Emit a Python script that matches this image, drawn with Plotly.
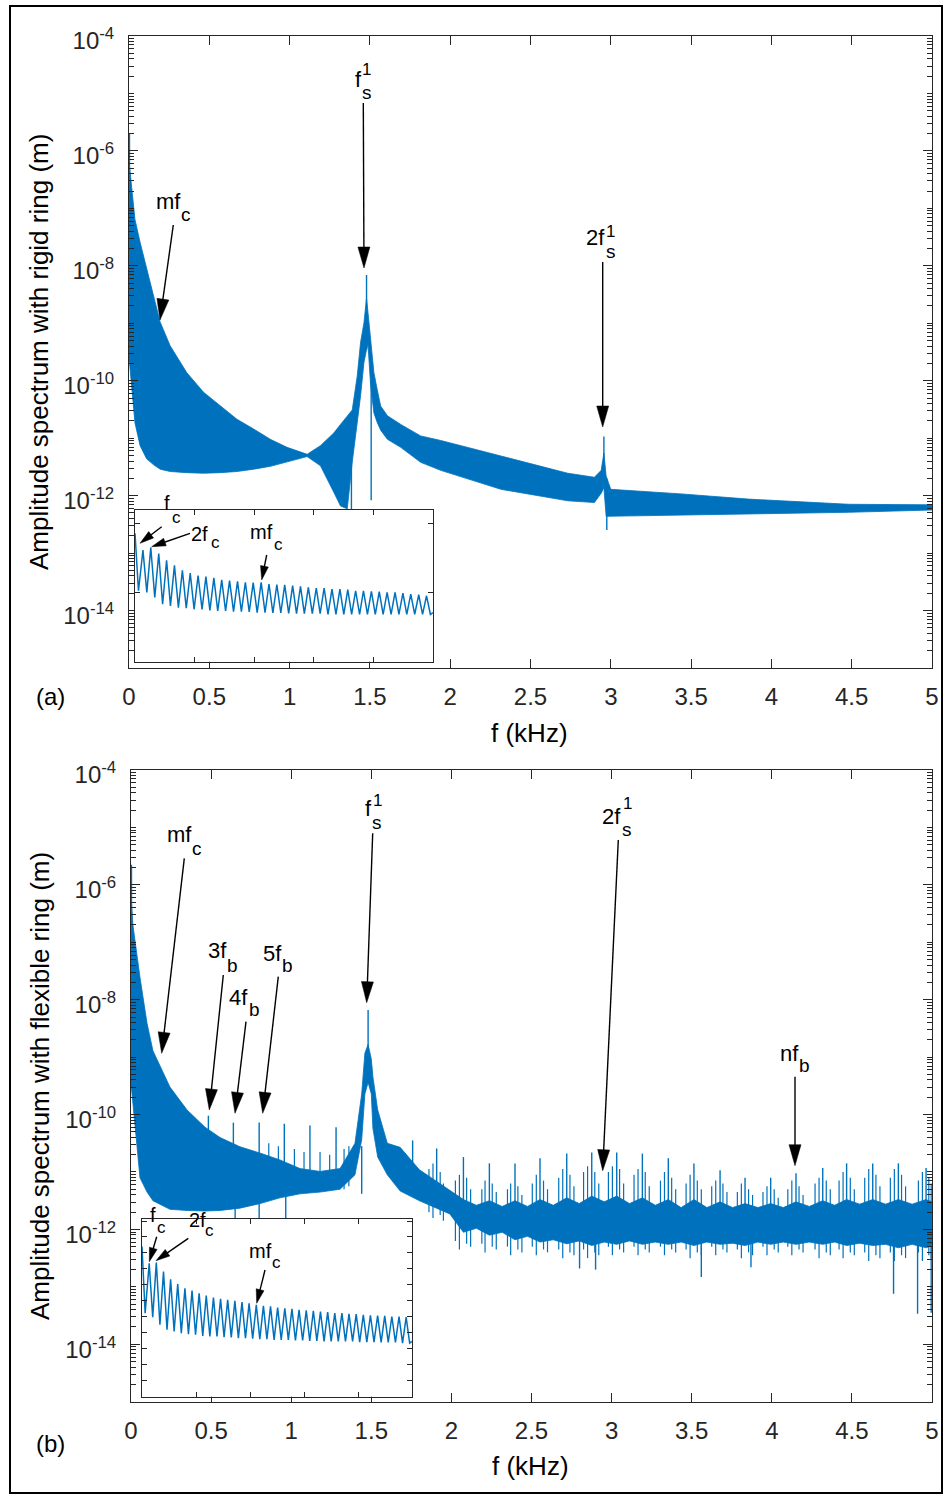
import plotly.graph_objects as go

W, H = 944, 1495
BLUE = "#0072BD"
AX = "#262626"
FONT = "Liberation Sans, Arial, Helvetica, sans-serif"

# ---------------- Panel (a): rigid ring (log10 of amplitude, m) ----------------
freq_a = [0.003, 0.017, 0.037, 0.069, 0.11, 0.152, 0.194, 0.256, 0.36, 0.464,
          0.568, 0.672, 0.776, 0.88, 0.984, 1.109, 1.192, 1.275, 1.317, 1.359,
          1.39, 1.421, 1.442, 1.463, 1.479, 1.488, 1.504, 1.525, 1.546, 1.567,
          1.609, 1.692, 1.816, 1.941, 2.316, 2.732, 2.898, 2.94, 2.957, 2.971,
          3.0, 3.44, 3.856, 4.48, 5.0]
upper_a_log10 = [-6.26, -6.70, -7.19, -7.59, -8.06, -8.52, -8.98, -9.39, -9.86, -10.20,
                 -10.44, -10.67, -10.84, -11.02, -11.16, -11.28, -11.13, -10.91, -10.76, -10.61,
                 -10.51, -9.92, -9.33, -8.99, -8.56, -8.81, -9.22, -9.86, -10.16, -10.44,
                 -10.61, -10.76, -10.96, -11.04, -11.31, -11.61, -11.68, -11.56, -11.26, -11.66,
                 -11.89, -11.97, -12.06, -12.15, -12.16]
lower_a_log10 = [-9.68, -10.03, -10.73, -11.13, -11.36, -11.46, -11.54, -11.58, -11.60, -11.61,
                 -11.60, -11.58, -11.54, -11.49, -11.42, -11.32, -11.48, -11.94, -12.18, -12.23,
                 -11.42, -10.73, -10.26, -9.68, -9.46, -9.36, -10.06, -10.56, -10.73, -10.86,
                 -11.02, -11.16, -11.42, -11.56, -11.89, -12.09, -12.12, -11.96, -11.86, -12.36,
                 -12.35, -12.34, -12.32, -12.29, -12.25]
spike_a_f = [0.003, 1.479, 1.385, 1.508, 2.957, 2.975]
spike_a_lo_log10 = [-9.68, -9.46, -12.25, -12.08, -11.86, -12.60]
spike_a_hi_log10 = [-5.69, -8.16, -11.00, -10.00, -10.97, -11.70]

# ---------------- Insets: low-frequency zoom (Hz, amplitude in pm) ----------------
inset_peak_f = [8.0, 15.9, 23.9, 31.8, 39.7, 47.7, 55.6, 63.5, 71.4, 79.4,
                87.3, 95.2, 103.2, 111.1, 119.0, 127.0, 134.9, 142.8, 150.7, 158.7,
                166.6, 174.5, 182.5, 190.4, 198.3, 206.3, 214.2, 222.1, 230.0, 238.0,
                245.9, 253.8, 261.8, 269.7, 277.6, 285.6, 293.5]
inset_trough_f = [3.5, 11.9, 19.9, 27.8, 35.7, 43.7, 51.6, 59.5, 67.5, 75.4,
                  83.3, 91.2, 99.2, 107.1, 115.0, 123.0, 130.9, 138.8, 146.8, 154.7,
                  162.6, 170.5, 178.5, 186.4, 194.3, 202.3, 210.2, 218.1, 226.1, 234.0,
                  241.9, 249.8, 257.8, 265.7, 273.6, 281.6, 289.5, 297.4]
inset_edges_f = [0.0, 300.0]

inset_a_peaks_pm = [1.618, 1.657, 1.569, 1.471, 1.397, 1.324, 1.284, 1.250, 1.235, 1.216,
                    1.186, 1.176, 1.167, 1.152, 1.147, 1.152, 1.127, 1.118, 1.113, 1.103,
                    1.093, 1.078, 1.069, 1.069, 1.054, 1.054, 1.044, 1.029, 1.029, 1.020,
                    1.015, 1.005, 1.005, 0.995, 0.980, 0.971, 0.956]
inset_a_troughs_pm = [1.029, 1.005, 0.931, 0.833, 0.809, 0.784, 0.775, 0.760, 0.760, 0.745,
                      0.735, 0.735, 0.725, 0.725, 0.721, 0.711, 0.711, 0.706, 0.706, 0.701,
                      0.696, 0.696, 0.696, 0.696, 0.686, 0.686, 0.686, 0.686, 0.686, 0.686,
                      0.686, 0.686, 0.686, 0.686, 0.686, 0.686, 0.686, 0.686]
inset_a_edges_pm = [1.863, 0.711]

inset_b_peaks_pm = [0.835, 0.840, 0.783, 0.735, 0.706, 0.679, 0.665, 0.648, 0.633, 0.621,
                    0.613, 0.606, 0.600, 0.592, 0.585, 0.575, 0.569, 0.565, 0.558, 0.554,
                    0.550, 0.544, 0.540, 0.538, 0.533, 0.529, 0.523, 0.523, 0.519, 0.517,
                    0.513, 0.510, 0.508, 0.506, 0.502, 0.502, 0.498]
inset_b_troughs_pm = [0.523, 0.498, 0.450, 0.419, 0.408, 0.398, 0.392, 0.388, 0.381, 0.377,
                      0.377, 0.373, 0.371, 0.367, 0.367, 0.363, 0.360, 0.360, 0.356, 0.356,
                      0.356, 0.352, 0.352, 0.350, 0.350, 0.346, 0.346, 0.346, 0.346, 0.346,
                      0.342, 0.342, 0.342, 0.340, 0.340, 0.340, 0.335, 0.335]
inset_b_edges_pm = [0.940, 0.346]

# ---------------- Panel (b): flexible ring (log10 of amplitude, m) ----------------
freq_b = [0.003, 0.012, 0.056, 0.1, 0.137, 0.243, 0.35, 0.462, 0.556, 0.68,
          0.805, 0.93, 1.055, 1.18, 1.305, 1.398, 1.44, 1.46, 1.48, 1.5,
          1.51, 1.54, 1.6, 1.68, 1.8, 1.99,
          2.075, 2.156, 2.237, 2.317, 2.397, 2.475, 2.553, 2.636, 2.72, 2.798,
          2.876, 2.954, 3.032, 3.112, 3.192, 3.273, 3.354, 3.434, 3.514, 3.595,
          3.677, 3.755, 3.833, 3.913, 3.993, 4.072, 4.151, 4.234, 4.318, 4.392,
          4.467, 4.548, 4.63, 4.71, 4.79, 4.876, 4.963, 5.0]
upper_b_log10 = [-6.31, -6.70, -7.61, -8.41, -8.89, -9.52, -9.92, -10.22, -10.40, -10.56,
                 -10.67, -10.79, -10.94, -10.99, -10.94, -10.50, -9.64, -8.93, -8.78, -9.03,
                 -9.34, -9.92, -10.50, -10.57, -10.96, -11.32,
                 -11.48, -11.58, -11.50, -11.60, -11.50, -11.60, -11.48, -11.58, -11.45, -11.55,
                 -11.42, -11.52, -11.42, -11.55, -11.45, -11.58, -11.48, -11.62, -11.48, -11.62,
                 -11.52, -11.62, -11.55, -11.62, -11.55, -11.62, -11.52, -11.60, -11.50, -11.58,
                 -11.48, -11.56, -11.48, -11.56, -11.48, -11.56, -11.48, -11.52]
lower_b_log10 = [-9.54, -9.84, -11.10, -11.35, -11.50, -11.65, -11.67, -11.68, -11.67, -11.63,
                 -11.55, -11.45, -11.38, -11.35, -11.30, -11.05, -10.44, -9.64, -9.44, -9.64,
                 -10.24, -10.74, -11.05, -11.33, -11.50, -11.73,
                 -12.05, -11.98, -12.10, -12.05, -12.18, -12.12, -12.22, -12.18, -12.25, -12.20,
                 -12.28, -12.22, -12.26, -12.20, -12.26, -12.22, -12.26, -12.22, -12.28, -12.22,
                 -12.26, -12.24, -12.28, -12.22, -12.26, -12.22, -12.26, -12.22, -12.26, -12.22,
                 -12.28, -12.24, -12.28, -12.26, -12.32, -12.26, -12.32, -12.28]
# rotating-ball harmonics n*f_b
harm_b_f = [0.483, 0.639, 0.80, 0.957, 1.117, 1.28, 1.758, 1.908, 2.075, 2.237,
            2.397, 2.553, 2.72, 2.876, 3.032, 3.192, 3.354, 3.514, 3.677, 3.833,
            3.993, 4.151, 4.318, 4.467, 4.63, 4.79, 4.963]
harm_b_hi_log10 = [-10.02, -10.14, -10.14, -10.16, -10.19, -10.22, -10.45, -10.59, -10.74, -10.85,
                   -10.85, -10.76, -10.68, -10.66, -10.66, -10.68, -10.76, -10.85, -10.97, -11.10,
                   -11.10, -11.02, -10.93, -10.85, -10.85, -10.85, -10.93]
harm_b_lo_log10 = [-11.2, -11.2, -11.2, -11.2, -11.2, -11.2, -11.3, -11.5, -11.9, -12.0,
                   -12.0, -12.0, -12.0, -12.0, -12.0, -12.0, -12.0, -12.0, -12.0, -12.0,
                   -12.0, -12.0, -12.0, -12.0, -12.0, -12.0, -12.0]
# other isolated lines (DC line, f_s peak, deep notches)
other_b_f = [0.003, 1.48, 0.65, 0.80, 0.966, 1.44, 2.80, 2.90, 3.56, 3.87, 4.76, 4.91, 4.995]
other_b_hi_log10 = [-5.65, -8.18, -11.35, -11.35, -11.25, -10.55, -12.05, -12.05, -12.15, -12.15, -12.25, -12.25, -12.05]
other_b_lo_log10 = [-9.54, -9.44, -11.85, -11.85, -11.93, -11.38, -12.68, -12.70, -12.83, -12.66, -13.12, -13.47, -13.45]
# side-band clusters around the harmonics
cluster_b_f = [0.86, 0.92, 1.02, 1.08, 1.18, 1.24, 1.33, 1.36,
               1.86, 1.885, 1.93, 1.95, 2.025, 2.05, 2.095, 2.12,
               2.19, 2.21, 2.255, 2.28, 2.35, 2.37, 2.415, 2.44,
               2.505, 2.53, 2.575, 2.60, 2.67, 2.695, 2.74, 2.765,
               2.825, 2.85, 2.895, 2.92, 2.98, 3.005, 3.05, 3.075,
               3.14, 3.165, 3.21, 3.235, 3.305, 3.33, 3.375, 3.40,
               3.465, 3.49, 3.535, 3.56, 3.625, 3.65, 3.695, 3.72,
               3.785, 3.81, 3.855, 3.88, 3.945, 3.97, 4.015, 4.04,
               4.10, 4.125, 4.17, 4.195, 4.27, 4.295, 4.34, 4.365,
               4.42, 4.445, 4.49, 4.515, 4.58, 4.605, 4.65, 4.675,
               4.74, 4.765, 4.81, 4.835, 4.915, 4.94, 4.98, 4.995]
cluster_b_hi_log10 = [-10.50, -10.55, -10.60, -10.65, -10.65, -10.70, -10.60, -10.55,
                      -10.95, -10.85, -11.00, -11.20, -11.15, -11.05, -11.10, -11.30,
                      -11.30, -11.15, -11.20, -11.35, -11.30, -11.20, -11.25, -11.40,
                      -11.20, -11.05, -11.15, -11.30, -11.10, -10.95, -11.05, -11.25,
                      -11.00, -10.90, -11.00, -11.20, -11.00, -10.90, -10.95, -11.20,
                      -11.05, -10.95, -11.00, -11.25, -11.15, -11.00, -11.10, -11.30,
                      -11.20, -11.05, -11.15, -11.30, -11.25, -11.15, -11.20, -11.35,
                      -11.35, -11.20, -11.30, -11.40, -11.35, -11.25, -11.30, -11.45,
                      -11.30, -11.15, -11.25, -11.40, -11.20, -11.10, -11.15, -11.30,
                      -11.15, -11.00, -11.10, -11.30, -11.10, -10.95, -11.05, -11.25,
                      -11.10, -10.95, -11.05, -11.25, -11.15, -11.00, -11.10, -11.20]
cluster_b_lo_log10 = [-11.40, -11.40, -11.35, -11.35, -11.30, -11.30, -11.30, -11.25,
                      -11.70, -11.80, -11.75, -11.85, -12.20, -12.35, -12.25, -12.30,
                      -12.25, -12.40, -12.30, -12.35, -12.30, -12.45, -12.35, -12.40,
                      -12.30, -12.45, -12.35, -12.40, -12.35, -12.50, -12.40, -12.45,
                      -12.35, -12.50, -12.40, -12.45, -12.30, -12.45, -12.35, -12.40,
                      -12.30, -12.45, -12.35, -12.40, -12.30, -12.45, -12.35, -12.40,
                      -12.35, -12.50, -12.40, -12.45, -12.30, -12.45, -12.35, -12.40,
                      -12.35, -12.50, -12.40, -12.45, -12.30, -12.45, -12.35, -12.40,
                      -12.30, -12.45, -12.35, -12.40, -12.35, -12.50, -12.40, -12.45,
                      -12.35, -12.50, -12.40, -12.45, -12.40, -12.55, -12.45, -12.50,
                      -12.40, -12.55, -12.45, -12.50, -12.40, -12.55, -12.45, -12.50]


def amp(logs):
    return [10.0 ** v for v in logs]


def band(f, up, lo):
    return list(f) + list(f)[::-1], amp(up) + amp(lo)[::-1]


def segments(f, lo, hi):
    xs, ys = [], []
    for a, b, c in zip(f, amp(lo), amp(hi)):
        xs += [a, a, None]
        ys += [b, c, None]
    return xs, ys


def zigzag(peaks_f, troughs_f, edges_f, peaks, troughs, edges):
    xs = [edges_f[0], troughs_f[0]]
    ys = [edges[0], troughs[0]]
    for i in range(len(peaks_f)):
        xs += [peaks_f[i], troughs_f[i + 1]]
        ys += [peaks[i], troughs[i + 1]]
    xs.append(edges_f[1])
    ys.append(edges[1])
    return xs, [v * 1e-12 for v in ys]


fig = go.Figure()

def add_band(f, up, lo, xa, ya):
    bx, by = band(f, up, lo)
    fig.add_trace(go.Scatter(x=bx, y=by, mode="lines", fill="toself", fillcolor=BLUE,
                             line=dict(color=BLUE, width=0.8), xaxis=xa, yaxis=ya,
                             hoverinfo="skip", showlegend=False))

def add_segments(f, lo, hi, xa, ya, w=1.4):
    sx, sy = segments(f, lo, hi)
    fig.add_trace(go.Scatter(x=sx, y=sy, mode="lines", line=dict(color=BLUE, width=w),
                             xaxis=xa, yaxis=ya, hoverinfo="skip", showlegend=False))

# panel (a)
add_band(freq_a, upper_a_log10, lower_a_log10, "x", "y")
add_segments(spike_a_f, spike_a_lo_log10, spike_a_hi_log10, "x", "y")
# inset (a)
ix, iy = zigzag(inset_peak_f, inset_trough_f, inset_edges_f,
                inset_a_peaks_pm, inset_a_troughs_pm, inset_a_edges_pm)
fig.add_trace(go.Scatter(x=ix, y=iy, mode="lines", line=dict(color=BLUE, width=1.5),
                         xaxis="x2", yaxis="y2", hoverinfo="skip", showlegend=False))
# panel (b)
add_band(freq_b, upper_b_log10, lower_b_log10, "x3", "y3")
add_segments(cluster_b_f, cluster_b_lo_log10, cluster_b_hi_log10, "x3", "y3", 1.2)
add_segments(harm_b_f, harm_b_lo_log10, harm_b_hi_log10, "x3", "y3")
add_segments(other_b_f, other_b_lo_log10, other_b_hi_log10, "x3", "y3")
# inset (b)
ix, iy = zigzag(inset_peak_f, inset_trough_f, inset_edges_f,
                inset_b_peaks_pm, inset_b_troughs_pm, inset_b_edges_pm)
fig.add_trace(go.Scatter(x=ix, y=iy, mode="lines", line=dict(color=BLUE, width=1.5),
                         xaxis="x4", yaxis="y4", hoverinfo="skip", showlegend=False))


def dx(a, b):
    return [a / W, b / W]

def dy(top, bottom):
    return [1 - bottom / H, 1 - top / H]

decades = list(range(-4, -16, -1))
major_vals = [10.0 ** e for e in decades if e % 2 == 0]
major_text = ["10<sup>%d</sup>" % e for e in decades if e % 2 == 0]
minor_vals = [k * 10.0 ** e for e in range(-15, -4) for k in range(2, 10)] + \
             [10.0 ** e for e in decades if e % 2 != 0]

tickfont = dict(family=FONT, size=24, color=AX)

def main_x(dom, anchor):
    return dict(domain=dom, anchor=anchor, range=[0, 5], tick0=0, dtick=0.5,
                ticks="inside", ticklen=9, tickwidth=1, tickcolor=AX,
                showline=True, linecolor=AX, linewidth=1, mirror="ticks",
                showgrid=False, zeroline=False, tickfont=tickfont,
                ticklabelstandoff=7, automargin=False)

def main_y(dom, anchor):
    return dict(domain=dom, anchor=anchor, type="log", range=[-15, -4],
                tickmode="array", tickvals=major_vals, ticktext=major_text,
                ticks="inside", ticklen=9, tickwidth=1, tickcolor=AX,
                minor=dict(tickmode="array", tickvals=minor_vals, ticks="inside",
                           ticklen=5, tickwidth=1, tickcolor=AX),
                showline=True, linecolor=AX, linewidth=1, mirror="ticks",
                showgrid=False, zeroline=False, tickfont=tickfont,
                ticklabelstandoff=9, ticklabelshift=5, automargin=False)

def inset_x(dom, anchor):
    return dict(domain=dom, anchor=anchor, range=[0, 300], tick0=0, dtick=60,
                ticks="inside", ticklen=5, tickwidth=1, tickcolor=AX,
                showline=True, linecolor=AX, linewidth=1, mirror="ticks",
                showticklabels=False, showgrid=False, zeroline=False, automargin=False)

def inset_y(dom, anchor, rng, step):
    return dict(domain=dom, anchor=anchor, range=rng, tick0=0, dtick=step,
                ticks="inside", ticklen=5, tickwidth=1, tickcolor=AX,
                showline=True, linecolor=AX, linewidth=1, mirror="ticks",
                showticklabels=False, showgrid=False, zeroline=False, automargin=False)

shapes = []
annotations = []

def P(x, y):
    return x / W, 1 - y / H

def arrow(x0, y0, x1, y1, hl, hw, lw=1.4):
    L = ((x1 - x0) ** 2 + (y1 - y0) ** 2) ** 0.5
    ux, uy = (x1 - x0) / L, (y1 - y0) / L
    bx, by = x1 - ux * hl, y1 - uy * hl
    nx, ny = -uy, ux
    a0 = P(x0, y0)
    ab = P(bx + ux * 2, by + uy * 2)
    shapes.append(dict(type="line", xref="paper", yref="paper", x0=a0[0], y0=a0[1],
                       x1=ab[0], y1=ab[1], line=dict(color="black", width=lw)))
    p1 = P(x1, y1)
    p2 = P(bx + nx * hw / 2, by + ny * hw / 2)
    p3 = P(bx - nx * hw / 2, by - ny * hw / 2)
    path = "M %.5f %.5f L %.5f %.5f L %.5f %.5f Z" % (p1[0], p1[1], p2[0], p2[1], p3[0], p3[1])
    shapes.append(dict(type="path", xref="paper", yref="paper", path=path,
                       fillcolor="black", line=dict(color="black", width=0.5)))

def text(x, y, s, size, angle=0):
    px, py = P(x, y)
    annotations.append(dict(x=px, y=py, xref="paper", yref="paper", text=s, showarrow=False,
                            textangle=angle, xanchor="center", yanchor="middle",
                            font=dict(family=FONT, size=size, color="black")))

BIG = (21, 12)
SMALL = (14, 8)

# ---- panel (a) labels ----
text(168, 201, "mf", 22); text(186, 214, "c", 19)
arrow(173.3, 225, 160, 320, *BIG)
text(358, 79, "f", 22); text(366, 70, "1", 17); text(367, 92, "s", 19)
arrow(363.3, 103, 364, 268, *BIG)
text(595, 238, "2f", 22); text(610, 232, "1", 17); text(611, 252, "s", 19)
arrow(602.7, 262, 602.7, 427, *BIG)
text(167, 503, "f", 20); text(176, 517, "c", 17)
arrow(161.7, 526.7, 140, 543.3, *SMALL)
text(199, 534, "2f", 20); text(215, 543, "c", 17)
arrow(190, 533.3, 151.7, 546.7, *SMALL)
text(261, 532, "mf", 20); text(278, 544, "c", 17)
arrow(266.7, 555, 261.7, 580, *SMALL)

# ---- panel (b) labels ----
text(179, 835, "mf", 22); text(197, 848, "c", 19)
arrow(184.3, 858.3, 161.7, 1053.3, *BIG)
text(217, 950, "3f", 22); text(232, 965, "b", 19)
arrow(223.3, 975, 209.3, 1110, *BIG)
text(238, 997, "4f", 22); text(254, 1009, "b", 19)
arrow(246, 1021.7, 235, 1113.3, *BIG)
text(272, 953, "5f", 22); text(287, 965, "b", 19)
arrow(278.3, 976.7, 262.7, 1113.3, *BIG)
text(368, 809, "f", 22); text(377, 800, "1", 17); text(377, 822, "s", 19)
arrow(372.7, 833.3, 366.7, 1002.7, *BIG)
text(611, 816, "2f", 22); text(627, 803, "1", 17); text(627, 829, "s", 19)
arrow(618.3, 840, 602.7, 1170.7, *BIG)
text(789, 1053, "nf", 22); text(804, 1065, "b", 19)
arrow(795, 1076.7, 795, 1165.7, *BIG)
text(153, 1215, "f", 20); text(161, 1227, "c", 17)
arrow(156.7, 1236.7, 149.3, 1261.7, *SMALL)
text(197, 1220, "2f", 20); text(209, 1230, "c", 17)
arrow(188.3, 1238.3, 156, 1260.7, *SMALL)
text(260, 1251, "mf", 20); text(276, 1262, "c", 17)
arrow(265, 1270, 256.7, 1303.3, *SMALL)

# ---- axis titles and panel tags ----
text(39, 352, "Amplitude spectrum with rigid ring (m)", 26, -90)
text(40, 1086, "Amplitude spectrum with flexible ring (m)", 26, -90)
text(529, 733, "f (kHz)", 26)
text(530, 1466, "f (kHz)", 26)
text(50, 697, "(a)", 24)
text(50, 1443, "(b)", 24)

# figure frame
fx0, fy0 = P(10, 6)
fx1, fy1 = P(942, 1493)
shapes.append(dict(type="rect", xref="paper", yref="paper", x0=fx0, y0=fy1, x1=fx1, y1=fy0,
                   line=dict(color="black", width=2), fillcolor="rgba(0,0,0,0)", layer="below"))

fig.update_layout(
    width=W, height=H, autosize=False,
    margin=dict(l=0, r=0, t=0, b=0, pad=0, autoexpand=False),
    paper_bgcolor="white", plot_bgcolor="white", showlegend=False,
    xaxis=main_x(dx(129, 932), "y"),
    yaxis=main_y(dy(36, 668), "x"),
    xaxis2=inset_x(dx(135, 433), "y2"),
    yaxis2=inset_y(dy(510, 661.7), "x2", [0, 2.2e-12], 1e-12),
    xaxis3=main_x(dx(131, 932), "y3"),
    yaxis3=main_y(dy(770, 1401.7), "x3"),
    xaxis4=inset_x(dx(142, 412), "y4"),
    yaxis4=inset_y(dy(1219, 1396.7), "x4", [0, 1.1125e-12], 1e-13),
    shapes=shapes, annotations=annotations,
)

fig.write_html("out.html")
